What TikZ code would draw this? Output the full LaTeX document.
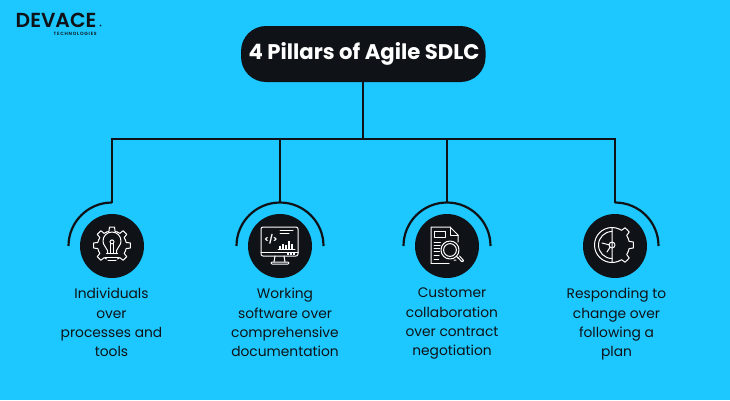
\documentclass[tikz,border=0pt]{standalone}
\usepackage{fontspec}
\setmainfont{Poppins}
\newfontfamily\titlefont{Poppins Bold}
\newfontfamily\logofont{Poppins SemiBold}
\definecolor{skybg}{HTML}{1CC8FF}
\definecolor{inkdark}{HTML}{0F1217}
\tikzset{
  wire/.style={draw=inkdark,line width=2.2pt},
  disc/.style={circle,fill=inkdark,minimum size=64pt,inner sep=0pt},
  lbl/.style={align=center,text=inkdark,font=\fontsize{13.8}{19.3}\selectfont,inner sep=0pt,anchor=north},
  ico/.style={draw=white,line width=1pt,line cap=round,line join=round}
}
\newcommand{\gearseg}[4]{% centre angle, ri, ro, half step
  \draw[ico] (#1-#4:#2pt) arc[start angle=#1-#4,end angle=#1-12,radius=#2pt]
     -- (#1-8:#3pt) arc[start angle=#1-8,end angle=#1+8,radius=#3pt]
     -- (#1+12:#2pt) arc[start angle=#1+12,end angle=#1+#4,radius=#2pt];
}
\begin{document}
\begin{tikzpicture}[x=1pt,y=1pt]
\useasboundingbox (0,0) rectangle (730,-400);
\fill[skybg] (0,0) rectangle (730,-400);

% logo
\node[inner sep=0pt,anchor=west,text=inkdark,font=\logofont\fontsize{20.3}{20.3}\selectfont] (logo) at (15.5,-20.5) {DEVACE};
\node[inner sep=0pt,anchor=east,text=inkdark,font=\logofont\fontsize{4.6}{4.6}\selectfont] (logosub) at (97,-34) {T\,E\,C\,H\,N\,O\,L\,O\,G\,I\,E\,S};
\fill[inkdark] (100.5,-25.5) circle[radius=0.9pt];

% title
\node[fill=inkdark,rounded corners=25pt,minimum width=244.5pt,minimum height=56pt,inner sep=0pt,text=white,font=\titlefont\fontsize{21.2}{24}\selectfont] (pill) at (363.3,-54) {\hspace*{1.5pt}4 Pillars of Agile SDLC};

% discs
\node[disc] (c1) at (112,-246) {};
\node[disc] (c2) at (280,-246) {};
\node[disc] (c3) at (447,-246) {};
\node[disc] (c4) at (615,-246) {};

% connectors
\coordinate (hub) at (pill.south |- 0,-139);
\coordinate (h1) at (112,-139);
\coordinate (h2) at (280,-139);
\coordinate (h3) at (447,-139);
\coordinate (h4) at (615,-139);
\coordinate (t1) at (112,-202.5);
\coordinate (t2) at (280,-202.5);
\coordinate (t3) at (447,-202.5);
\coordinate (t4) at (615,-202.5);
\draw[wire] (pill.south) -- (hub);
\draw[wire,line join=miter] (t1) -- (h1) -- (h4) -- (t4);
\draw[wire] (h2) -- (t2);
\draw[wire] (h3) -- (t3);
\draw[wire] (t1) arc[start angle=90,end angle=180,radius=43.5pt];
\draw[wire] (t2) ++(-43.5pt,-43.5pt) arc[start angle=180,end angle=0,radius=43.5pt];
\draw[wire] (t3) ++(-43.5pt,-43.5pt) arc[start angle=180,end angle=0,radius=43.5pt];
\draw[wire] (t4) arc[start angle=90,end angle=0,radius=43.5pt];

% icon 1: gear with bulb
\begin{scope}[shift={(c1.center)}]
  \begin{scope}[shift={(0,0.5)}]
  \foreach \a in {0,45,90,135,180,225,315}{\gearseg{\a}{14.5}{18.5}{22.5}}
  \draw[ico] (-4.5,-8) -- (-4.5,-5) .. controls (-5.5,-1.5) and (-9,0) .. (-9,4.5)
     arc[start angle=180,end angle=0,radius=9pt]
     .. controls (9,0) and (5.5,-1.5) .. (4.5,-5) -- (4.5,-8);
  \draw[ico] (-5.5,-8) -- (5.5,-8) (-6.5,-11.5) -- (6.5,-11.5) (-4,-15) -- (4,-15);
  \draw[ico] (-1.8,-8) -- (-1.8,2) (1.8,-8) -- (1.8,2);
  \draw[ico] (0,3.6) circle[radius=2pt];
  \end{scope}
\end{scope}

% icon 2: monitor
\begin{scope}[shift={(c2.center)}]
  \draw[ico,rounded corners=2pt] (-19,-10) rectangle (18,19);
  \draw[ico] (-19,-6) -- (18,-6);
  \draw[ico] (-5,-10) -- (-6,-16) (4,-10) -- (5,-16);
  \draw[ico,rounded corners=1pt] (-9,-18) -- (-9,-16) -- (9,-16) -- (9,-18) -- cycle;
  \node[inner sep=0pt,text=white,font=\fontsize{8.5}{9}\selectfont\bfseries] (code) at (-9,7) {</>};
  \draw[ico] (0,16) -- (13,16) (0,13) -- (9,13);
  \draw[ico] (-2,-3) -- (15,-3);
  \foreach \x/\h in {0/3,3/5,6/4,9/8,12/5}{\fill[white] (\x-0.9,-3) rectangle (\x+0.9,-3+\h);}
  \foreach \x in {8,11,14}{\fill[white] (\x-0.8,-9) rectangle (\x+0.8,-7.4);}
\end{scope}

% icon 3: document with magnifier
\begin{scope}[shift={(c3.center)}]
  \draw[ico] (7,-14) -- (9,-14) (-16,-17) -- (-16,19) -- (3,19) -- (11,11) -- (11,4);
  \draw[ico] (-16,-17) -- (2,-17);
  \draw[ico] (3,19) -- (3,11) -- (11,11);
  \draw[ico] (-13,15) rectangle (-2,9);
  \foreach \y in {4,1,-2,-5,-9,-13}{\draw[ico] (-13,\y) -- (-7+0.1*\y,\y);}
  \draw[ico] (3,-4) circle[radius=9pt];
  \draw[ico] (3,-4) circle[radius=6.4pt];
  \draw[ico] (9.5,-10.5) -- (11.5,-12.5);
  \draw[ico,rounded corners=1pt] (10.5,-11) -- (15,-16) -- (17,-15) -- (12.5,-10) ;
\end{scope}

% icon 4: clock-gear
\begin{scope}[shift={(c4.center)}]
  \begin{scope}[shift={(-3,1)}]
    \draw[ico] (0,17.5) arc[start angle=90,end angle=270,radius=17.5pt] -- cycle;
    \draw[ico] (0,13.5) arc[start angle=90,end angle=270,radius=13.5pt];
    \foreach \a in {-45,0,45}{\gearseg{\a}{17.5}{21.5}{22.5}}
    \draw[ico] (67.5:17.5pt) arc[start angle=67.5,end angle=90,radius=17.5pt];
    \draw[ico] (-67.5:17.5pt) arc[start angle=-67.5,end angle=-90,radius=17.5pt];
    \draw[ico] (0,0) circle[radius=3pt];
    \draw[ico] (-3,0.2) -- (-10,2);
    \draw[ico] (-2,-2.2) -- (-5,-7);
  \end{scope}
\end{scope}

% labels
\node[lbl] (l1) at (111.5,-288) {Individuals\\over\\processes and\\tools};
\node[lbl] (l2) at (285,-288) {Working\\software over\\comprehensive\\documentation};
\node[lbl] (l3) at (452,-288) {Customer\\collaboration\\over contract\\negotiation};
\node[lbl] (l4) at (616.5,-288) {Responding to\\change over\\following a\\plan};
\end{tikzpicture}
\end{document}
